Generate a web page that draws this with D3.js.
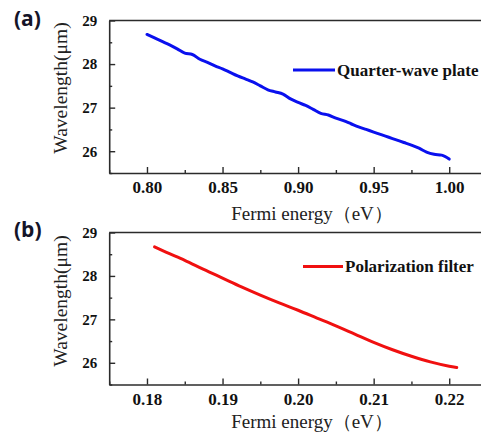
<!DOCTYPE html>
<html>
<head>
<meta charset="utf-8">
<script src="https://cdn.jsdelivr.net/npm/d3@7/dist/d3.min.js"></script>
<style>
html,body{margin:0;padding:0;background:#fff;}
svg{display:block;}
.serif{font-family:"Liberation Serif","Times New Roman",Times,Tinos,"Nimbus Roman","DejaVu Serif",serif;}
</style>
</head>
<body>
<svg id="chart" width="481" height="436"></svg>
<script>
// ---- Data ----
const fermiA = [0.800,0.805,0.810,0.815,0.820,0.825,0.830,0.835,0.840,0.845,0.850,0.855,0.860,0.865,0.870,0.875,0.880,0.885,0.890,0.895,0.900,0.905,0.910,0.915,0.920,0.925,0.930,0.935,0.940,0.945,0.950,0.955,0.960,0.965,0.970,0.975,0.980,0.985,0.990,0.995,1.000];
const wavelengthA = [28.68,28.60,28.52,28.44,28.35,28.25,28.22,28.11,28.04,27.96,27.89,27.81,27.73,27.66,27.59,27.50,27.41,27.36,27.31,27.20,27.12,27.05,26.96,26.87,26.83,26.76,26.70,26.63,26.56,26.50,26.44,26.38,26.32,26.26,26.20,26.14,26.07,25.98,25.93,25.91,25.82];
const fermiB = [0.181,0.1825,0.185,0.1875,0.190,0.1925,0.195,0.1975,0.200,0.2025,0.205,0.2075,0.210,0.2125,0.215,0.2175,0.220,0.221];
const wavelengthB = [28.67,28.55,28.36,28.15,27.95,27.75,27.56,27.38,27.21,27.03,26.85,26.66,26.47,26.30,26.15,26.02,25.92,25.89];
const xTicksA = [0.80,0.85,0.90,0.95,1.00];
const xMinorA = [0.775,0.825,0.875,0.925,0.975,1.025];
const xTicksB = [0.18,0.19,0.20,0.21,0.22];
const xMinorB = [0.175,0.185,0.195,0.205,0.215,0.225];
const yTicks = [26,27,28,29];
const yMinor = [25.5,26.5,27.5,28.5];
const panelLabels = ["(a)","(b)"];
const seriesNames = ["Quarter-wave plate","Polarization filter"];
const yTitle = "Wavelength(μm)";
const xTitle = "Fermi energy（eV）";

const svg = d3.select("#chart");
const axisColor = "#2b2b2b";

const panels = [
  {x: fermiA, y: wavelengthA, xd:[0.775,1.025], ticks: xTicksA, minor: xMinorA, fmt: d3.format(".2f"),
   top: 20.5, bottom: 173, color: "#0a10ee", label: panelLabels[0], labelY: 26, name: seriesNames[0],
   legY: 70, legX1: 293, legX2: 335, yTitleY: 88, xTitleY: 220},
  {x: fermiB, y: wavelengthB, xd:[0.175,0.225], ticks: xTicksB, minor: xMinorB, fmt: d3.format(".2f"),
   top: 232.5, bottom: 384.5, color: "#f01010", label: panelLabels[1], labelY: 237, name: seriesNames[1],
   legY: 266.5, legX1: 303, legX2: 343, yTitleY: 301, xTitleY: 428}
];

const left = 109.2, right = 487;

panels.forEach(p => {
  const x = d3.scaleLinear().domain(p.xd).range([left, right]);
  const y = d3.scaleLinear().domain([25.5, 29]).range([p.bottom, p.top]);
  const g = svg.append("g");

  // frame lines
  g.append("line").attr("x1", left).attr("x2", right).attr("y1", p.top).attr("y2", p.top)
    .attr("stroke", axisColor).attr("stroke-width", 1.6);
  g.append("line").attr("x1", right).attr("x2", right).attr("y1", p.top).attr("y2", p.bottom)
    .attr("stroke", axisColor).attr("stroke-width", 1.6);

  // bottom axis
  const xAxis = g.append("g").attr("transform", `translate(0,${p.bottom})`)
    .call(d3.axisBottom(x).tickValues(p.ticks).tickFormat(p.fmt).tickSizeInner(-6).tickSizeOuter(0).tickPadding(8));
  xAxis.attr("font-family", null);
  xAxis.select(".domain").attr("stroke", axisColor).attr("stroke-width", 1.6);
  xAxis.selectAll(".tick line").attr("stroke", axisColor).attr("stroke-width", 1.4);
  xAxis.selectAll(".tick text").attr("class", "serif").attr("font-weight", "bold")
    .attr("font-size", 17).attr("fill", "#111");
  const xMin = g.append("g").attr("transform", `translate(0,${p.bottom})`)
    .call(d3.axisBottom(x).tickValues(p.minor).tickFormat("").tickSizeInner(-3).tickSizeOuter(0));
  xMin.select(".domain").remove();
  xMin.selectAll(".tick line").attr("stroke", axisColor).attr("stroke-width", 1.4);

  // left axis
  const yAxis = g.append("g").attr("transform", `translate(${left},0)`)
    .call(d3.axisLeft(y).tickValues(yTicks).tickFormat(d3.format("d")).tickSizeInner(-6).tickSizeOuter(0).tickPadding(12));
  yAxis.attr("font-family", null);
  yAxis.select(".domain").attr("stroke", axisColor).attr("stroke-width", 1.6);
  yAxis.selectAll(".tick line").attr("stroke", axisColor).attr("stroke-width", 1.4);
  yAxis.selectAll(".tick text").attr("class", "serif").attr("font-weight", "bold")
    .attr("font-size", 15).attr("fill", "#111");
  const yMin = g.append("g").attr("transform", `translate(${left},0)`)
    .call(d3.axisLeft(y).tickValues(yMinor).tickFormat("").tickSizeInner(-3).tickSizeOuter(0));
  yMin.select(".domain").remove();
  yMin.selectAll(".tick line").attr("stroke", axisColor).attr("stroke-width", 1.4);

  // data line
  const pts = p.x.map((v, i) => [v, p.y[i]]);
  g.append("path").datum(pts)
    .attr("fill", "none").attr("stroke", p.color).attr("stroke-width", 3)
    .attr("stroke-linejoin", "round").attr("stroke-linecap", "round")
    .attr("d", d3.line().curve(d3.curveMonotoneX).x(d => x(d[0])).y(d => y(d[1])));

  // legend
  g.append("line").attr("x1", p.legX1).attr("x2", p.legX2).attr("y1", p.legY).attr("y2", p.legY)
    .attr("stroke", p.color).attr("stroke-width", 3);
  g.append("text").attr("class", "serif").attr("x", p.legX2 + 2).attr("y", p.legY + 5.5)
    .attr("font-weight", "bold").attr("font-size", 17).attr("fill", "#111")
    .text(p.name);

  // axis titles
  g.append("text").attr("class", "serif").attr("transform", `translate(66.5,${p.yTitleY}) rotate(-90)`)
    .attr("text-anchor", "middle").attr("font-size", 19.5).attr("fill", "#222")
    .text(yTitle);
  g.append("text").attr("class", "serif").attr("x", 312).attr("y", p.xTitleY).attr("text-anchor", "middle")
    .attr("font-size", 19).attr("fill", "#222")
    .text(xTitle);

  // panel label
  g.append("text").attr("x", 14).attr("y", p.labelY)
    .attr("font-family", "'Open Sans','Liberation Sans',Arial,sans-serif").attr("font-weight", "bold")
    .attr("font-size", 21).attr("fill", "#141428").text(p.label);
});
</script>
</body>
</html>
